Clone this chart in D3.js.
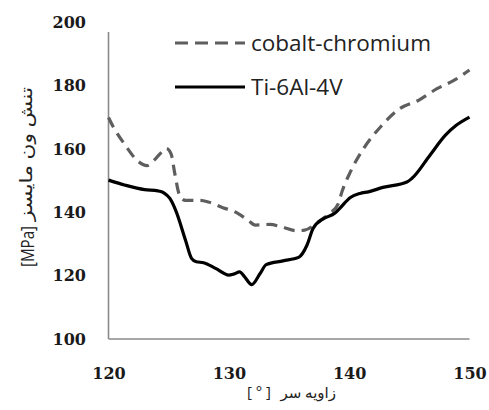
<!DOCTYPE html>
<html lang="en">
<head>
    <meta charset="UTF-8">
    <title>von Mises stress vs angle</title>
    <style>
        body { margin: 0; background: #fff; }
        .tick text {
            font-family: "DejaVu Serif", serif;
            font-weight: bold;
            font-size: 16px;
            fill: #1a1a1a;
        }
        .legend text {
            font-family: "Open Sans", sans-serif;
            font-size: 22.5px;
            fill: #222;
        }
        .title {
            font-family: "Open Sans", "DejaVu Sans", sans-serif;
            fill: #222;
        }
    </style>
</head>
<body>
    <script src="https://d3js.org/d3.v7.min.js"></script>
    <script>
        const width = 489;
        const height = 410;

        // data
        const angleCoCr = [120, 120.4, 121.4, 122.5, 123.2, 123.8, 124.3, 124.8, 125.2, 125.5, 125.9, 126.4, 127.6, 128.3, 129.5, 130.5, 131.6, 132.2, 133.4, 134.4, 135.6, 136.3, 137.6, 138.3, 139.1, 139.4, 140.1, 141.2, 142.6, 144.2, 145.8, 147.3, 148.7, 150];
        const stressCoCr = [170, 167, 161.2, 156, 154.8, 156.5, 158.6, 160.2, 158.5, 152.5, 145.5, 143.8, 143.8, 143.3, 141.5, 140.2, 137.5, 136, 136.2, 135.4, 134.2, 134.4, 137.5, 139.4, 142.8, 146.5, 152.8, 160.2, 167, 172.8, 175.5, 179.1, 181.7, 185];
        const angleTi = [120, 121.4, 123, 124.1, 124.6, 125.1, 125.6, 126.4, 126.9, 127.3, 127.9, 128.9, 130, 130.4, 130.9, 131.3, 131.9, 132.6, 133.1, 134.5, 135.8, 136.5, 137, 137.9, 138.8, 139.2, 140.1, 140.9, 141.6, 142.8, 144.8, 145.2, 146.7, 148, 148.9, 150];
        const stressTi = [150.2, 148.6, 147.2, 146.8, 146.2, 144.4, 140.5, 131.2, 125.5, 124.4, 124.1, 122.3, 120.2, 120.5, 121.2, 119.7, 117.2, 120.7, 123.5, 124.7, 125.8, 129.7, 134.9, 138.1, 139.7, 141.2, 144.7, 146, 146.5, 147.9, 149.6, 150.7, 158, 164.4, 167.5, 170.1];
        const xTicks = [120, 130, 140, 150];
        const yTicks = [100, 120, 140, 160, 180, 200];
        const seriesNames = ['cobalt-chromium', 'Ti-6Al-4V'];

        const svg = d3.select('body').append('svg').attr('width', width).attr('height', height);

        const xScale = d3.scaleLinear().domain([120, 150]).range([108.5, 469.5]);
        const yScale = d3.scaleLinear().domain([100, 200]).range([339, 22.5]);

        // axes (labels only, lines drawn below)
        const gy = svg.append('g')
            .attr('transform', 'translate(' + 86 + ',0)')
            .call(d3.axisLeft(yScale).tickValues(yTicks).tickSize(0).tickPadding(0));
        gy.select('.domain').remove();

        const gx = svg.append('g')
            .attr('transform', 'translate(0,' + 368 + ')')
            .call(d3.axisBottom(xScale).tickValues(xTicks).tickSize(0).tickPadding(0));
        gx.select('.domain').remove();

        svg.append('line')
            .attr('x1', xScale(120)).attr('x2', xScale(120))
            .attr('y1', yScale(197)).attr('y2', yScale(100))
            .attr('stroke', '#8a8a8a').attr('stroke-width', 1.6);
        svg.append('line')
            .attr('x1', xScale(120)).attr('x2', xScale(150))
            .attr('y1', yScale(100)).attr('y2', yScale(100))
            .attr('stroke', '#8a8a8a').attr('stroke-width', 1.6);

        const line = d3.line()
            .x(function (d) { return xScale(d[0]); })
            .y(function (d) { return yScale(d[1]); })
            .curve(d3.curveMonotoneX);

        const coCr = d3.zip(angleCoCr, stressCoCr);
        const ti = d3.zip(angleTi, stressTi);

        svg.append('path')
            .datum(coCr)
            .attr('d', line)
            .attr('fill', 'none')
            .attr('stroke', '#5e5e5e')
            .attr('stroke-width', 3.2)
            .attr('stroke-dasharray', '11,7');

        svg.append('path')
            .datum(ti)
            .attr('d', line)
            .attr('fill', 'none')
            .attr('stroke', '#000')
            .attr('stroke-width', 3.2);

        // legend
        const legend = svg.append('g').attr('class', 'legend');
        legend.append('line')
            .attr('x1', 175).attr('x2', 245).attr('y1', 43).attr('y2', 43)
            .attr('stroke', '#5e5e5e').attr('stroke-width', 3.2)
            .attr('stroke-dasharray', '13,7');
        legend.append('line')
            .attr('x1', 175).attr('x2', 245).attr('y1', 87).attr('y2', 87)
            .attr('stroke', '#000').attr('stroke-width', 3.2);
        legend.append('text').attr('x', 251).attr('y', 51).text(seriesNames[0]);
        legend.append('text').attr('x', 251).attr('y', 95).text(seriesNames[1]);

        // axis titles
        const yTitle = svg.append('g').attr('transform', 'translate(34,267) rotate(-90)');
        yTitle.append('text').attr('class', 'title')
            .attr('x', 0).attr('y', 0)
            .style('font-size', '19px')
            .attr('textLength', 41)
            .attr('lengthAdjust', 'spacingAndGlyphs')
            .text('[MPa]');
        yTitle.append('text').attr('class', 'title')
            .attr('x', 46).attr('y', -2)
            .style('font-size', '17px')
            .attr('textLength', 134)
            .attr('lengthAdjust', 'spacingAndGlyphs')
            .text('تنش ون مایسز');

        // x title: unit on the left, persian words on the right
        svg.append('text').attr('class', 'title')
            .attr('x', 247).attr('y', 397)
            .style('font-size', '15px')
            .text('[ ° ]');
        svg.append('text').attr('class', 'title')
            .attr('x', 336).attr('y', 398)
            .attr('text-anchor', 'end')
            .style('font-size', '15px')
            .text('زاویه سر');
    </script>
</body>
</html>
